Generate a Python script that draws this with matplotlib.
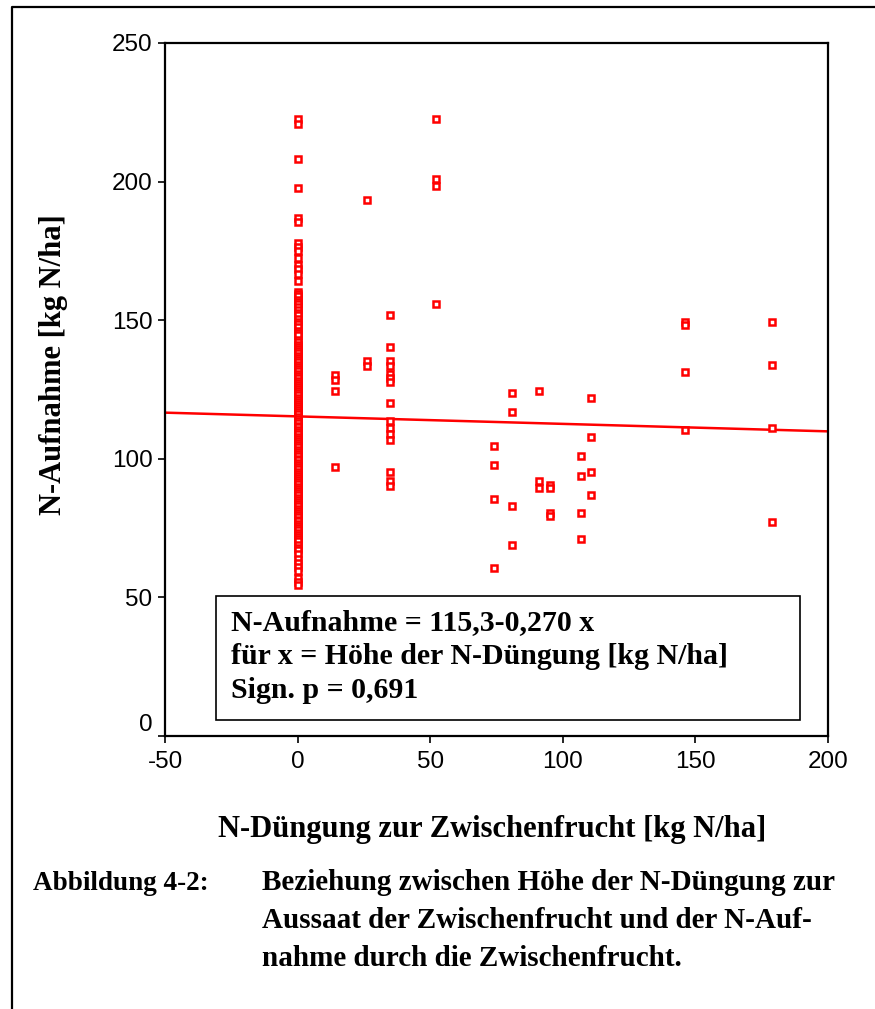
import matplotlib.pyplot as plt
from matplotlib.lines import Line2D
from matplotlib.patches import Rectangle

# N uptake [kg N/ha] of plots without N fertilisation to the catch crop
y_zero = [222.6, 220.8, 208.3, 197.6, 186.8, 185.6, 177.8, 176.4, 175.1, 172.6,
          170.0, 168.3, 166.8, 164.3, 160.1, 159.4, 158.7, 157.2, 156.5, 155.9,
          154.8, 153.5, 152.6, 151.8, 150.6, 149.5, 148.6, 147.7, 146.0, 145.3,
          144.6, 143.0, 142.2, 141.2, 140.3, 139.5, 138.8, 138.1, 137.2, 136.4,
          135.6, 134.8, 133.9, 133.0, 132.3, 131.6, 130.7, 129.9, 129.1, 128.2,
          127.4, 126.7, 125.9, 125.0, 124.4, 123.8, 122.9, 122.1, 121.2, 120.4,
          119.6, 118.9, 118.2, 117.5, 116.8, 116.0, 115.1, 114.2, 113.5, 112.8,
          112.0, 111.3, 110.4, 109.6, 108.8, 108.0, 107.3, 106.5, 105.7, 104.9,
          104.1, 103.2, 102.5, 101.7, 100.9, 100.1, 99.4, 98.6, 97.8, 97.0,
          96.2, 95.4, 94.6, 93.9, 93.1, 92.3, 91.5, 90.8, 89.9, 89.1,
          88.4, 87.6, 86.8, 86.0, 85.2, 84.5, 83.7, 82.9, 82.0, 81.2,
          80.5, 79.8, 78.9, 78.1, 77.4, 76.6, 75.8, 75.0, 74.2, 73.4,
          72.6, 71.9, 71.0, 70.2, 68.8, 67.9, 67.1, 65.6, 64.0, 62.5,
          61.0, 59.4, 57.1, 55.4, 54.6]

# N fertilisation levels [kg N/ha] and the uptake measured at each
dose_levels = [14, 26, 35, 52, 74, 81, 91, 95, 107, 110.6, 146, 179]
uptake_by_dose = [
    [130.1, 128.5, 124.4, 97.0],
    [193.4, 135.4, 133.6],
    [151.8, 140.2, 135.4, 133.6, 130.5, 129.0, 127.7, 120.2, 113.5, 111.0,
     109.0, 106.9, 95.3, 92.1, 90.3],
    [222.6, 200.9, 198.4, 156.0],
    [104.5, 97.9, 85.4, 60.5],
    [123.6, 117.0, 82.8, 68.8],
    [124.4, 92.1, 89.6],
    [90.5, 89.3, 80.5, 79.3],
    [101.1, 93.7, 80.3, 71.2],
    [121.9, 107.7, 95.3, 86.9],
    [149.2, 148.2, 131.2, 110.4],
    [149.3, 133.7, 111.1, 77.1],
]

# regression line
intercept = 115.3
slope = -0.027
x_line = [-50, 200]

W, H = 875, 1009


def fx(px):
    return px / W


def fy(py):
    return 1 - py / H


plt.rcParams["font.family"] = ["Liberation Sans", "DejaVu Sans"]
plt.rcParams["axes.unicode_minus"] = False
serif = ["Liberation Serif", "DejaVu Serif"]

fig = plt.figure(figsize=(W / 100, H / 100), dpi=100)
ax = fig.add_axes([fx(165), fy(736), fx(828) - fx(165), fy(43) - fy(736)])

xs = [0.0] * len(y_zero)
ys = list(y_zero)
for dose, vals in zip(dose_levels, uptake_by_dose):
    xs += [dose] * len(vals)
    ys += vals

ax.plot(xs, ys, "s", ms=4, mfc="white", mec="#ff0000", mew=1.8, ls="none", zorder=3)
ax.plot(x_line, [intercept + slope * v for v in x_line], color="#ff0000", lw=1.8, zorder=2)

ax.set_xlim(-50, 200)
ax.set_ylim(0, 250)
ax.set_xticks([-50, 0, 50, 100, 150, 200])
ax.set_yticks([0, 50, 100, 150, 200, 250])
ax.tick_params(direction="out", length=5, width=1.2, labelsize=17.5, pad=4)
ax.tick_params(axis="x", pad=6)
for s in ax.spines.values():
    s.set_linewidth(1.6)
ax.get_yticklabels()[0].set_va("bottom")

# equation box
fig.add_artist(Rectangle((fx(216), fy(720)), fx(800) - fx(216), fy(596) - fy(720),
                         transform=fig.transFigure, fill=False, ec="black", lw=1.2))
box_lines = ["N-Aufnahme = 115,3-0,270 x",
             "für x = Höhe der N-Düngung [kg N/ha]",
             "Sign. p = 0,691"]
for i, t in enumerate(box_lines):
    fig.text(fx(231), fy(623 + 34 * i), t, family=serif, weight="bold",
             fontsize=21.5, va="center", ha="left")

fig.text(fx(54), fy(365), "N-Aufnahme [kg N/ha]", family=serif, weight="bold",
         fontsize=22, rotation=90, ha="center", va="center")
fig.text(fx(492), fy(829), "N-Düngung zur Zwischenfrucht [kg N/ha]", family=serif,
         weight="bold", fontsize=22, ha="center", va="center")

caption = ["Beziehung zwischen Höhe der N-Düngung zur",
           "Aussaat der Zwischenfrucht und der N-Auf-",
           "nahme durch die Zwischenfrucht."]
fig.text(fx(33), fy(883), "Abbildung 4-2:", family=serif, weight="bold",
         fontsize=19.5, ha="left", va="center")
for i, t in enumerate(caption):
    fig.text(fx(262), fy(883 + 38 * i), t, family=serif, weight="bold",
             fontsize=21, ha="left", va="center")

# page frame
fig.add_artist(Line2D([fx(12), fx(12), 1.0], [0.0, fy(7), fy(7)],
                      transform=fig.transFigure, color="black", lw=1.6))

fig.savefig("out.png", dpi=100)
plt.close(fig)
